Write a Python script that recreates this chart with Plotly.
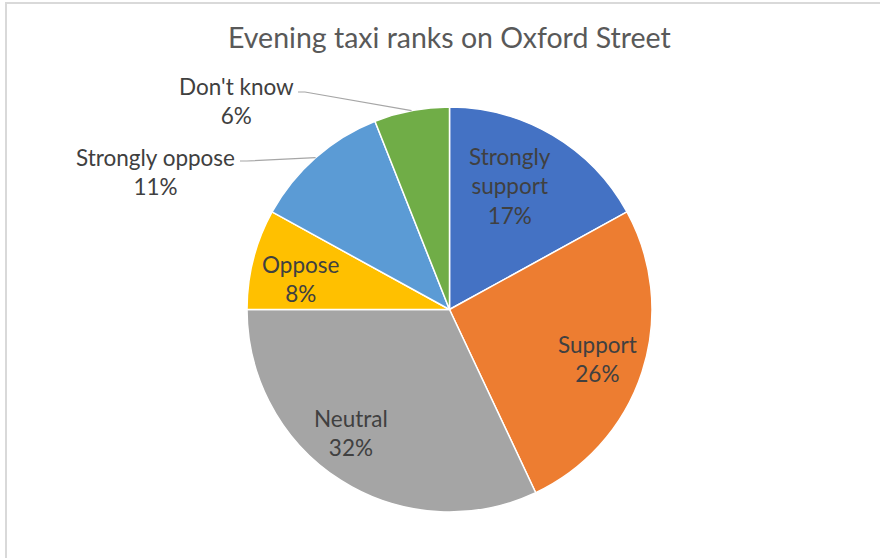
import math
import plotly.graph_objects as go

# Survey responses
categories = ["Strongly support", "Support", "Neutral", "Oppose", "Strongly oppose", "Don't know"]
label_text = ["Strongly<br>support", "Support", "Neutral", "Oppose", "Strongly oppose", "Don't know"]
shares = [17, 26, 32, 8, 11, 6]
colors = ["#4472C4", "#ED7D31", "#A5A5A5", "#FFC000", "#5B9BD5", "#70AD47"]
title = "Evening taxi ranks on Oxford Street"

# Page geometry (pixels)
W, H = 880, 558
CX, CY, R = 449.5, 309.5, 202.5

# Label styling: inside labels sit at a fraction of the radius (with a small angular nudge);
# outside labels are offset from the rim point and joined with a leader line.
inside = {"Strongly support": (0.68, -4.4), "Support": (0.77, 0.6),
          "Neutral": (0.78, 6.3), "Oppose": (0.75, -3.0)}
outside = {"Don't know": {"label": (-175, -10), "line": (-113.6, -18.6)},
           "Strongly oppose": {"label": (-160, 14), "line": (-75.6, 3.4)}}

FONT = "Lato"
TEXT_COLOR = "#404040"
LABEL_SIZE = 22.5


def px(x):
    return x / W


def py(y):
    return 1 - y / H


def polar(angle_deg, frac):
    a = math.radians(angle_deg)
    return CX + R * frac * math.sin(a), CY - R * frac * math.cos(a)


fig = go.Figure(go.Pie(
    labels=categories,
    values=shares,
    sort=False,
    direction="clockwise",
    rotation=0,
    marker=dict(colors=colors, line=dict(color="white", width=1.5)),
    textinfo="none",
    hoverinfo="label+percent",
    showlegend=False,
    domain=dict(x=[px(CX - R), px(CX + R)], y=[py(CY + R), py(CY - R)]),
))

total = sum(shares)
annotations = []
shapes = []
cum = 0
for cat, txt, v in zip(categories, label_text, shares):
    mid = (cum + v / 2) / total * 360
    cum += v
    pct = f"{round(v / total * 100)}%"
    if cat in inside:
        frac, nudge = inside[cat]
        x, y = polar(mid + nudge, frac)
        annotations.append(dict(x=px(x), y=py(y), xref="paper", yref="paper",
                                text=f"{txt}<br>{pct}", showarrow=False,
                                xanchor="center", yanchor="middle",
                                font=dict(family=FONT, size=LABEL_SIZE, color=TEXT_COLOR)))
    else:
        rx, ry = polar(mid, 1.0)
        ox, oy = outside[cat]["label"]
        lx, ly = outside[cat]["line"]
        annotations.append(dict(x=px(rx + ox), y=py(ry + oy), xref="paper", yref="paper",
                                text=f"{txt}<br>{pct}", showarrow=False,
                                xanchor="center", yanchor="middle",
                                font=dict(family=FONT, size=LABEL_SIZE, color=TEXT_COLOR)))
        sx, sy = rx + lx, ry + ly
        shapes.append(dict(type="path", xref="paper", yref="paper",
                           path=f"M {px(sx)} {py(sy)} L {px(sx + 7)} {py(sy)} L {px(rx)} {py(ry)}",
                           line=dict(color="#A6A6A6", width=1.2)))

# Chart frame edges
shapes.append(dict(type="line", xref="paper", yref="paper", x0=px(5), x1=1, y0=py(3), y1=py(3),
                   line=dict(color="#D9D9D9", width=2)))
shapes.append(dict(type="line", xref="paper", yref="paper", x0=px(6), x1=px(6), y0=py(3), y1=0,
                   line=dict(color="#D9D9D9", width=2)))

annotations.append(dict(x=px(449), y=py(37), xref="paper", yref="paper", text=title,
                        showarrow=False, xanchor="center", yanchor="middle",
                        font=dict(family=FONT, size=28.5, color="#595959")))

fig.update_layout(
    width=W, height=H,
    margin=dict(l=0, r=0, t=0, b=0),
    paper_bgcolor="white",
    plot_bgcolor="white",
    annotations=annotations,
    shapes=shapes,
)

fig.write_html("out.html")
